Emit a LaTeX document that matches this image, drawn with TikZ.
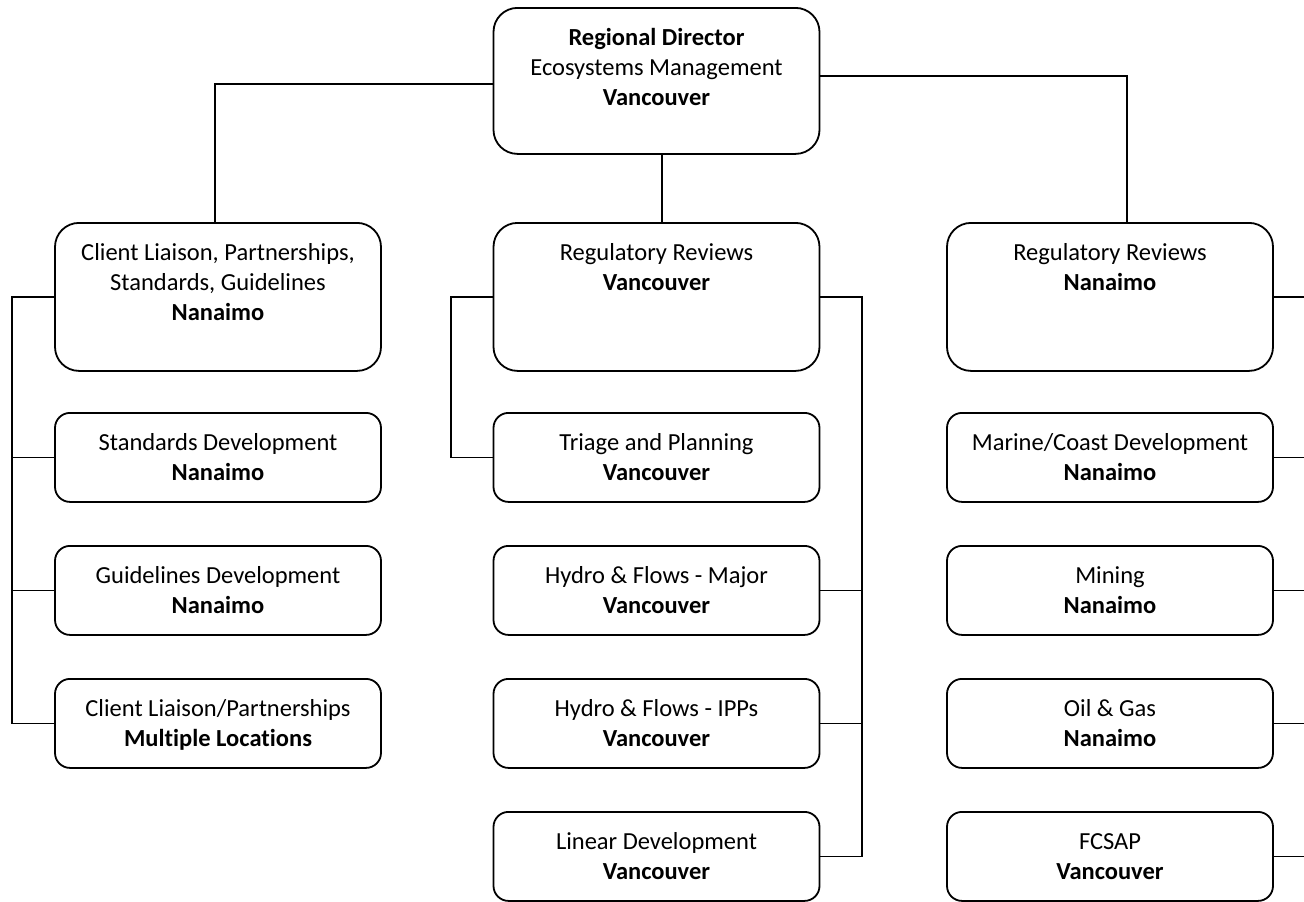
\documentclass[tikz,border=0pt]{standalone}
\usepackage{fontspec}
\setmainfont{Carlito}[Ligatures=NoCommon]

\begin{document}
\begin{tikzpicture}[x=1pt, y=-1pt, line width=1.6pt,
        box/.style={draw, line width=1.8pt, anchor=north, inner xsep=3pt, inner ysep=0pt, font=\fontsize{24.5}{30}\selectfont},
        bigbox/.style={box, rounded corners=24pt},
        smallbox/.style={box, rounded corners=15pt}]
    \useasboundingbox (0, 0) rectangle (1304, 902);

    \newcommand{\orgtext}[2]{\parbox[t][#1][t]{320pt}{\centering\rule{0pt}{38pt}#2}}

    \node[bigbox] (director) at (656.5, 7) {\orgtext{146pt}{\textbf{Regional Director}\\ Ecosystems Management\\ \textbf{Vancouver}}};

    \node[bigbox] (liaison) at (218, 222) {\orgtext{148pt}{Client Liaison, Partnerships,\\ Standards, Guidelines\\ \textbf{Nanaimo}}};
    \node[smallbox] (standards) at (218, 412) {\orgtext{89pt}{Standards Development\\ \textbf{Nanaimo}}};
    \node[smallbox] (guidelines) at (218, 545) {\orgtext{89pt}{Guidelines Development\\ \textbf{Nanaimo}}};
    \node[smallbox] (partners) at (218, 678) {\orgtext{89pt}{Client Liaison/Partnerships\\ \textbf{Multiple Locations}}};

    \node[bigbox] (revvan) at (656.5, 222) {\orgtext{148pt}{Regulatory Reviews\\ \textbf{Vancouver}}};
    \node[smallbox] (triage) at (656.5, 412) {\orgtext{89pt}{Triage and Planning\\ \textbf{Vancouver}}};
    \node[smallbox] (hydromajor) at (656.5, 545) {\orgtext{89pt}{Hydro \& Flows - Major\\ \textbf{Vancouver}}};
    \node[smallbox] (hydroipp) at (656.5, 678) {\orgtext{89pt}{Hydro \& Flows - IPPs\\ \textbf{Vancouver}}};
    \node[smallbox] (linear) at (656.5, 811) {\orgtext{89pt}{Linear Development\\ \textbf{Vancouver}}};

    \node[bigbox] (revnan) at (1110, 222) {\orgtext{148pt}{Regulatory Reviews\\ \textbf{Nanaimo}}};
    \node[smallbox] (marine) at (1110, 412) {\orgtext{89pt}{Marine/Coast Development\\ \textbf{Nanaimo}}};
    \node[smallbox] (mining) at (1110, 545) {\orgtext{89pt}{Mining\\ \textbf{Nanaimo}}};
    \node[smallbox] (oilgas) at (1110, 678) {\orgtext{89pt}{Oil \& Gas\\ \textbf{Nanaimo}}};
    \node[smallbox] (fcsap) at (1110, 811) {\orgtext{89pt}{FCSAP\\ \textbf{Vancouver}}};

    \coordinate (leftbus) at (12, 0);
    \coordinate (triagebus) at (451, 0);
    \coordinate (vanbus) at (862, 0);
    \coordinate (nanbus) at (1306, 0);

    \draw ([yshift=-3pt]director.west) -| ([xshift=-3pt]liaison.north);
    \draw ([yshift=5pt]director.east) -| ([xshift=17pt]revnan.north);
    \draw ([xshift=5.5pt]director.south) -- ([xshift=5.5pt]revvan.north);

    \draw (liaison.west) -- (liaison.west -| leftbus) -- (partners.west -| leftbus) -- (partners.west);
    \draw (standards.west) -- (standards.west -| leftbus);
    \draw (guidelines.west) -- (guidelines.west -| leftbus);

    \draw (revvan.west) -- (revvan.west -| triagebus) -- (triage.west -| triagebus) -- (triage.west);
    \draw (revvan.east) -- (revvan.east -| vanbus) -- (linear.east -| vanbus) -- (linear.east);
    \draw (hydromajor.east) -- (hydromajor.east -| vanbus);
    \draw (hydroipp.east) -- (hydroipp.east -| vanbus);

    \draw (revnan.east) -- (revnan.east -| nanbus);
    \draw (marine.east) -- (marine.east -| nanbus);
    \draw (mining.east) -- (mining.east -| nanbus);
    \draw (oilgas.east) -- (oilgas.east -| nanbus);
    \draw (fcsap.east) -- (fcsap.east -| nanbus);
\end{tikzpicture}
\end{document}
